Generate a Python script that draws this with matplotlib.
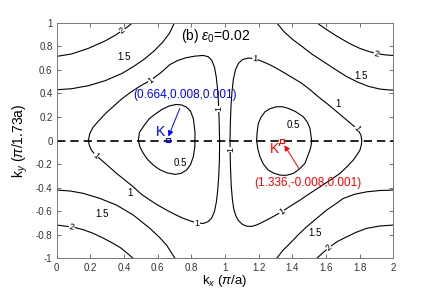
import matplotlib
matplotlib.use("Agg")
import matplotlib.pyplot as plt

plt.rcParams['font.family'] = ['Liberation Sans', 'DejaVu Sans']
plt.rcParams['axes.unicode_minus'] = False
plt.rcParams['mathtext.fontset'] = 'custom'
plt.rcParams['mathtext.rm'] = 'Liberation Sans'
plt.rcParams['mathtext.it'] = 'Liberation Sans:italic'

# contour lines, (kx, ky) pairs per line
lvl05_K_x = [0.485, 0.492, 0.52, 0.55, 0.59, 0.63, 0.67, 0.71, 0.74, 0.77, 0.795, 0.812, 0.822,
             0.821, 0.812, 0.795, 0.772, 0.74, 0.703, 0.653, 0.61, 0.574, 0.54, 0.515, 0.495, 0.485]
lvl05_K_y = [0.0, 0.07, 0.129, 0.185, 0.229, 0.268, 0.294, 0.306, 0.303, 0.285, 0.25, 0.186, 0.071,
             -0.05, -0.137, -0.205, -0.25, -0.278, -0.287, -0.273, -0.245, -0.208, -0.16, -0.109, -0.055, 0.0]
lvl05_Kp_x = [1.188, 1.191, 1.198, 1.215, 1.238, 1.27, 1.307, 1.34, 1.376, 1.42, 1.465, 1.49, 1.505, 1.515,
              1.512, 1.505, 1.475, 1.44, 1.406, 1.365, 1.327, 1.29, 1.257, 1.228, 1.208, 1.195, 1.188]
lvl05_Kp_y = [0.0, 0.07, 0.146, 0.2, 0.245, 0.272, 0.287, 0.287, 0.273, 0.245, 0.202, 0.155, 0.104, 0.0,
              -0.04, -0.081, -0.194, -0.245, -0.279, -0.295, -0.293, -0.277, -0.25, -0.2, -0.137, -0.07, 0.0]

lvl1_K_x = [0.188, 0.197, 0.215, 0.245, 0.29, 0.34, 0.39, 0.44, 0.49, 0.56, 0.62, 0.673, 0.72, 0.77, 0.82,
            0.87, 0.9, 0.922, 0.938, 0.948, 0.955, 0.961, 0.965, 0.968,
            0.967, 0.963, 0.957, 0.949, 0.938, 0.922, 0.9, 0.872, 0.84, 0.8, 0.752, 0.7, 0.653, 0.6,
            0.554, 0.5, 0.455, 0.405, 0.356, 0.3, 0.255, 0.228, 0.208, 0.195, 0.188]
lvl1_K_y = [0.0, 0.06, 0.11, 0.16, 0.229, 0.294, 0.357, 0.41, 0.457, 0.514, 0.577, 0.645, 0.68, 0.703, 0.716,
            0.722, 0.712, 0.68, 0.62, 0.54, 0.45, 0.33, 0.18, 0.0,
            -0.166, -0.3, -0.42, -0.52, -0.6, -0.655, -0.688, -0.703, -0.7, -0.685, -0.66, -0.625, -0.59, -0.547,
            -0.505, -0.452, -0.392, -0.335, -0.279, -0.208, -0.152, -0.118, -0.085, -0.045, 0.0]
lvl1_Kp_x = [1.03, 1.032, 1.036, 1.042, 1.05, 1.062, 1.08, 1.105, 1.14, 1.178, 1.22, 1.267, 1.31, 1.357,
             1.405, 1.456, 1.505, 1.555, 1.605, 1.654, 1.713, 1.773, 1.795, 1.808, 1.813,
             1.81, 1.802, 1.785, 1.762, 1.725, 1.683, 1.625, 1.565, 1.505, 1.446, 1.39, 1.337, 1.28, 1.228,
             1.19, 1.16, 1.13, 1.105, 1.08, 1.065, 1.052, 1.044, 1.037, 1.032, 1.03]
lvl1_Kp_y = [0.0, 0.15, 0.3, 0.42, 0.52, 0.6, 0.655, 0.688, 0.7, 0.695, 0.672, 0.643, 0.61, 0.571,
             0.53, 0.486, 0.432, 0.371, 0.315, 0.257, 0.186, 0.114, 0.08, 0.045, 0.0,
             -0.04, -0.081, -0.12, -0.166, -0.222, -0.279, -0.336, -0.392, -0.448, -0.505, -0.555, -0.604,
             -0.65, -0.689, -0.715, -0.728, -0.727, -0.712, -0.68, -0.64, -0.58, -0.5, -0.38, -0.2, 0.0]

lvl15_tl_x = [0.0, 0.09, 0.19, 0.29, 0.39, 0.455, 0.52, 0.58, 0.63, 0.67, 0.70]
lvl15_tl_y = [0.431, 0.44, 0.466, 0.509, 0.571, 0.627, 0.69, 0.762, 0.835, 0.91, 1.0]
lvl15_tr_x = [1.307, 1.35, 1.40, 1.456, 1.52, 1.59, 1.654, 1.72, 1.79, 1.852, 1.92, 1.97, 2.0]
lvl15_tr_y = [1.0, 0.925, 0.86, 0.8, 0.73, 0.665, 0.605, 0.545, 0.495, 0.46, 0.437, 0.43, 0.428]
lvl15_bl_x = [0.0, 0.08, 0.158, 0.257, 0.356, 0.455, 0.554, 0.61, 0.653, 0.703]
lvl15_bl_y = [-0.42, -0.428, -0.448, -0.491, -0.548, -0.632, -0.745, -0.82, -0.887, -1.0]
lvl15_br_x = [1.307, 1.345, 1.386, 1.435, 1.485, 1.545, 1.604, 1.66, 1.703, 1.77, 1.842, 1.92, 2.0]
lvl15_br_y = [-1.0, -0.93, -0.873, -0.8, -0.732, -0.66, -0.59, -0.535, -0.491, -0.456, -0.435, -0.424, -0.42]

lvl2_tl_x = [0.0, 0.089, 0.188, 0.287, 0.35, 0.386, 0.42, 0.451]
lvl2_tl_y = [0.714, 0.735, 0.782, 0.845, 0.895, 0.93, 0.963, 1.0]
lvl2_tr_x = [1.545, 1.6, 1.654, 1.705, 1.753, 1.8, 1.852, 1.9, 1.951, 2.0]
lvl2_tr_y = [1.0, 0.945, 0.895, 0.852, 0.814, 0.783, 0.757, 0.738, 0.727, 0.722]
lvl2_bl_x = [0.0, 0.099, 0.16, 0.218, 0.28, 0.336, 0.38, 0.416, 0.455]
lvl2_bl_y = [-0.717, -0.735, -0.757, -0.788, -0.83, -0.873, -0.91, -0.952, -1.0]
lvl2_br_x = [1.545, 1.585, 1.624, 1.67, 1.723, 1.78, 1.842, 1.92, 2.0]
lvl2_br_y = [-1.0, -0.948, -0.901, -0.855, -0.817, -0.778, -0.745, -0.725, -0.717]

lines = [(lvl05_K_x, lvl05_K_y), (lvl05_Kp_x, lvl05_Kp_y),
         (lvl1_K_x, lvl1_K_y), (lvl1_Kp_x, lvl1_Kp_y),
         (lvl15_tl_x, lvl15_tl_y), (lvl15_tr_x, lvl15_tr_y),
         (lvl15_bl_x, lvl15_bl_y), (lvl15_br_x, lvl15_br_y),
         (lvl2_tl_x, lvl2_tl_y), (lvl2_tr_x, lvl2_tr_y),
         (lvl2_bl_x, lvl2_bl_y), (lvl2_br_x, lvl2_br_y)]

# labels sitting on the lines (text, x, y, rotation)
inline_labels = [('2', 0.39, 0.935, 38), ('1', 0.56, 0.51, 38), ('1', 0.962, 0.27, 90),
                 ('1', 1.178, 0.695, -5), ('2', 1.90, 0.737, -12), ('1', 1.783, 0.1, -52),
                 ('1', 0.232, -0.128, -42), ('2', 0.089, -0.735, -12), ('1', 0.835, -0.702, 0),
                 ('1', 1.033, -0.075, 90), ('1', 1.337, -0.604, 32), ('2', 1.614, -0.905, 42)]
# upright labels next to the lines
side_labels = [('1.5', 0.40, 0.71), ('1.5', 1.808, 0.551), ('1', 1.673, 0.311), ('0.5', 1.406, 0.135),
               ('0.5', 0.733, -0.193), ('1', 0.436, -0.447), ('1.5', 0.267, -0.622), ('1.5', 1.535, -0.788)]

K_pt = (0.664, 0.008)
Kp_pt = (1.336, -0.008)

fig = plt.figure(figsize=(4.36, 2.91), dpi=100)
ax = fig.add_axes([0.130, 0.112, 0.772, 0.810])

for xs, ys in lines:
    ax.plot(xs, ys, color='black', lw=0.8)

for t, x, y, r in inline_labels:
    ax.text(x, y, t, fontsize=6.5, rotation=r, ha='center', va='center', rotation_mode='anchor',
            bbox=dict(fc='white', ec='none', pad=0.2), zorder=3)
for t, x, y in side_labels:
    ax.text(x, y, t, fontsize=7, ha='center', va='center', zorder=3)

ax.axhline(0, color='black', lw=1.2, ls=(0, (5, 3)), zorder=2)

ax.plot(*K_pt, 's', mfc='none', mec='blue', ms=3.5, mew=0.8, zorder=4)
ax.plot(*Kp_pt, 's', mfc='none', mec='red', ms=3.5, mew=0.8, zorder=4)
ax.annotate('(0.664,0.008,0.001)', xy=(0.664, 0.035), xytext=(0.765, 0.39), color='blue',
            fontsize=8.5, ha='center', va='center',
            arrowprops=dict(arrowstyle='-|>', color='blue', lw=0.7, mutation_scale=8,
                            shrinkA=4, shrinkB=0))
ax.text(0.614, 0.075, 'K', color='blue', fontsize=10, ha='center', va='center')
ax.annotate('(1.336,-0.008,0.001)', xy=(1.353, -0.04), xytext=(1.495, -0.364), color='red',
            fontsize=8.5, ha='center', va='center',
            arrowprops=dict(arrowstyle='-|>', color='red', lw=0.7, mutation_scale=8,
                            shrinkA=5, shrinkB=0))
ax.text(1.30, -0.075, "K'", color='red', fontsize=10, ha='center', va='center')

ax.text(0.945, 0.886, r'(b) $\epsilon_0$=0.02', fontsize=10, ha='center', va='center')

ax.set_xlim(0, 2)
ax.set_ylim(-1, 1)
ax.set_xticks([i * 0.2 for i in range(11)])
ax.set_xticklabels(['0', '0.2', '0.4', '0.6', '0.8', '1', '1.2', '1.4', '1.6', '1.8', '2'])
ax.set_yticks([-1 + i * 0.2 for i in range(11)])
ax.set_yticklabels(['-1', '-0.8', '-0.6', '-0.4', '-0.2', '0', '0.2', '0.4', '0.6', '0.8', '1'])
ax.tick_params(direction='in', top=True, right=True, length=3, width=0.6, labelsize=7,
               colors='#555555', labelcolor='#333333', pad=3)
for s in ax.spines.values():
    s.set_color('#777777')
    s.set_linewidth(0.7)

ax.set_xlabel(r'k$_x$ ($\pi$/a)', fontsize=9.5, labelpad=0)
ax.set_ylabel(r'k$_y$ ($\pi$/1.73a)', fontsize=10, labelpad=4)

fig.savefig('out.png', dpi=100)
